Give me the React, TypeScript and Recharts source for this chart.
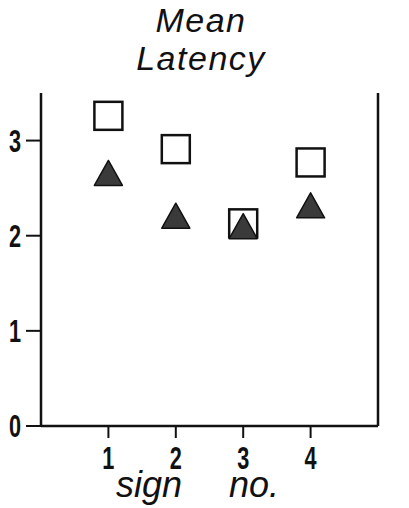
import { ScatterChart, Scatter, XAxis, YAxis, Customized } from "recharts"

// sign numbers along the x axis
const signs = [1, 2, 3, 4]
// mean latency, open squares
const squareValues = [3.26, 2.91, 2.13, 2.77]
// mean latency, filled triangles
const triangleValues = [2.66, 2.21, 2.1, 2.32]
const xTicks = [1, 2, 3, 4]
const yTicks = [0, 1, 2, 3]
const titleLines = ["Mean", "Latency"]

const squares = signs.map((s, i) => ({ x: s, y: squareValues[i] }))
const triangles = signs.map((s, i) => ({ x: s, y: triangleValues[i] }))

const ink = "#111"
const italicFont = "'Liberation Sans', Arial, sans-serif"

// condensed bold digits, squeezed horizontally like the typeset original
const makeTick = (dy: string) => (p: any) => (
  <g transform={`translate(${p.x},${p.y})`}>
    <text
      transform="scale(0.7,1)"
      textAnchor={p.textAnchor}
      dy={dy}
      fontFamily="'Liberation Sans', Arial, sans-serif"
      fontWeight={700}
      fontSize={31}
      fill={ink}
    >
      {p.payload.value}
    </text>
  </g>
)

const Square = (p: any) => (
  <rect x={p.cx - 14} y={p.cy - 14} width={28} height={28} fill="#fff" stroke={ink} strokeWidth={2.5} />
)

const Triangle = (p: any) => (
  <path
    d={`M${p.cx},${p.cy - 12.5} L${p.cx + 14},${p.cy + 12.5} L${p.cx - 14},${p.cy + 12.5} Z`}
    fill="#3a3a3a"
    stroke={ink}
    strokeWidth={1.5}
    strokeLinejoin="round"
  />
)

const Title = () => (
  <g>
    {titleLines.map((t, i) => (
      <text
        key={t}
        x={201}
        y={32 + i * 38}
        textAnchor="middle"
        fontFamily={italicFont}
        fontStyle="italic"
        fontSize={34}
        letterSpacing={1.5}
        fill={ink}
      >
        {t}
      </text>
    ))}
  </g>
)

const XLabel = (props: any) => {
  const vb = props.viewBox
  const base = vb.y + 71
  return (
    <g fontFamily={italicFont} fontStyle="italic" fontSize={36} fill={ink}>
      <text x={vb.x + 141} y={base} textAnchor="end">sign</text>
      <text x={vb.x + 188} y={base} textAnchor="start">no.</text>
    </g>
  )
}

export default function App() {
  return (
    <div style={{ position: "absolute", left: 0, top: 0, width: 409, height: 508, background: "#fff" }}>
      <ScatterChart width={409} height={508} margin={{ top: 93, right: 0, bottom: 0, left: 0 }}>
        <XAxis
          type="number"
          dataKey="x"
          domain={[0, 5]}
          ticks={xTicks}
          height={82}
          tickSize={12}
          tickMargin={9}
          axisLine={{ stroke: ink, strokeWidth: 2.5 }}
          tickLine={{ stroke: ink, strokeWidth: 2 }}
          tick={makeTick("0.71em")}
          label={<XLabel />}
        />
        <YAxis
          yAxisId="left"
          type="number"
          dataKey="y"
          domain={[0, 3.5]}
          ticks={yTicks}
          width={41}
          tickSize={15}
          tickMargin={5}
          axisLine={{ stroke: ink, strokeWidth: 2.5 }}
          tickLine={{ stroke: ink, strokeWidth: 2 }}
          tick={makeTick("0.36em")}
        />
        <YAxis
          yAxisId="right"
          orientation="right"
          type="number"
          dataKey="y"
          domain={[0, 3.5]}
          ticks={yTicks}
          width={31}
          tickSize={14}
          tickMargin={7}
          axisLine={{ stroke: ink, strokeWidth: 2.5 }}
          tickLine={{ stroke: ink, strokeWidth: 2 }}
          tick={makeTick("0.36em")}
        />
        <Scatter yAxisId="left" data={squares} shape={Square} isAnimationActive={false} />
        <Scatter yAxisId="left" data={triangles} shape={Triangle} isAnimationActive={false} />
        <Customized component={Title} />
      </ScatterChart>
    </div>
  )
}
